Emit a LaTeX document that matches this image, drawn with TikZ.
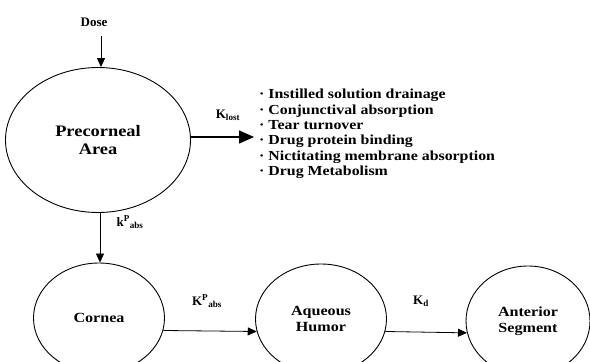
\documentclass[tikz,border=0pt]{standalone}
\usepackage{fontspec}
\setmainfont{Liberation Serif}
\newfontfamily\widefont{Liberation Serif}[FakeStretch=1.15]
\usetikzlibrary{shapes.geometric,arrows.meta}
\tikzset{
  comp/.style={draw, line width=0.9pt, ellipse, inner sep=0pt, align=center,
    font=\widefont\bfseries\fontsize{14}{16}\selectfont},
  arr/.style={line width=0.8pt, -{Triangle[length=9pt,width=8pt]}},
  bigarr/.style={line width=1.6pt, -{Triangle[length=15pt,width=13pt]}},
  lbl/.style={font=\bfseries\fontsize{13}{15}\selectfont, inner sep=0pt},
  lst/.style={font=\widefont\bfseries\fontsize{13.8}{15.4}\selectfont, align=left, inner sep=0pt, anchor=north west},
}
\begin{document}
\begin{tikzpicture}[x=1pt,y=-1pt]
\useasboundingbox (0,0) rectangle (590,362);
\clip (0,0) rectangle (590,362);
\node[lbl] (dose) at (94,22) {Dose};
\node[comp, minimum width=185pt, minimum height=145pt, font=\widefont\bfseries\fontsize{16}{18}\selectfont] (pre) at (98,140) {Precorneal\\Area};
\node[comp, minimum width=131pt, minimum height=110pt] (cor) at (99,318) {Cornea};
\node[comp, minimum width=131pt, minimum height=110pt] (aq) at (321,319) {Aqueous\\Humor};
\node[comp, minimum width=124pt, minimum height=110pt] (ant) at (528,321) {Anterior\\Segment};
\coordinate (dtop) at (101,36);
\coordinate (lostend) at (254,137);
\draw[arr] (dtop) -- (dtop |- pre.north);
\draw[bigarr] (pre.east |- lostend) -- (lostend);
\draw[arr] (pre.south -| 100,0) -- (cor.north -| 100,0);
\draw[arr] (cor.-11) -- (aq.191);
\draw[arr] (aq.-11) -- (ant.191);
\node[lbl] (klost) at (228,115) {K\textsubscript{lost}};
\node[lbl] (kpabs) at (130,222) {k\textsuperscript{P}\textsubscript{abs}};
\node[lbl] (kpabs2) at (207,301) {K\textsuperscript{P}\textsubscript{abs}};
\node[lbl] (kd) at (421,301) {K\textsubscript{d}};
\node[lst] (list) at (259,89) {· Instilled solution drainage\\
· Conjunctival absorption\\
· Tear turnover\\
· Drug protein binding\\
· Nictitating membrane absorption\\
· Drug Metabolism};
\end{tikzpicture}
\end{document}
